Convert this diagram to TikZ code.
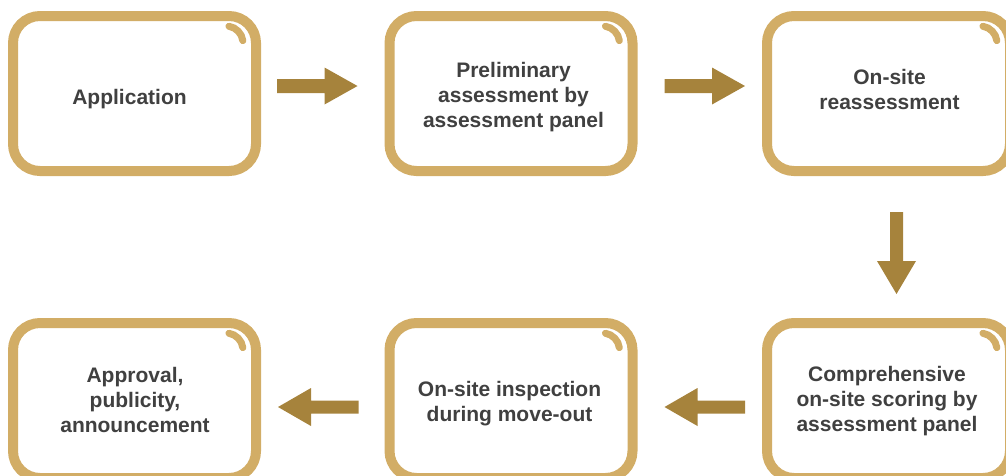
\documentclass[tikz,border=0pt]{standalone}
\usepackage{fontspec}
\setmainfont{Liberation Sans}
\usetikzlibrary{calc}
\definecolor{boxgold}{HTML}{D2AD66}
\definecolor{arrowgold}{HTML}{A6833C}
\definecolor{txtgray}{HTML}{404040}
\newcommand\flowarrow[4]{%
  \coordinate (ab) at ($(#2)!33pt!(#1)$);
  \fill[arrowgold] ($(#1)!#3!90:(#2)$) -- ($(ab)!#3!90:(#2)$) -- ($(ab)!#4!90:(#2)$) -- (#2)
    -- ($(ab)!#4!-90:(#2)$) -- ($(ab)!#3!-90:(#2)$) -- ($(#1)!#3!-90:(#2)$) -- cycle;}
\begin{document}
\begin{tikzpicture}[x=1pt,y=-1pt,
  stepbox/.style={draw=boxgold, line width=10pt, rounded corners=27pt, fill=white,
    minimum width=243pt, minimum height=155pt, inner sep=0pt},
  gleam/.style={draw=boxgold, line width=7pt, line cap=round},
  lbl/.style={text=txtgray, font=\fontsize{21}{25}\selectfont\bfseries, align=center, inner sep=0pt}]
\useasboundingbox (0,0) rectangle (1006,475);
\clip (0,0) rectangle (1006,475);
% boxes
\node[stepbox] (b1) at (134.5,93.5) {};
\node[stepbox] (b2) at (511,93.5) {};
\node[stepbox] (b3) at (888.5,93.5) {};
\node[stepbox] (b4) at (888.5,400.5) {};
\node[stepbox] (b5) at (511,400.5) {};
\node[stepbox] (b6) at (134.5,400.5) {};
% gleams
\foreach \b in {b1,b2,b3,b4,b5,b6}
  \draw[gleam] ($(\b.north east)+(-35,32)$) ++(80:17pt) arc[start angle=80,end angle=8,radius=17pt];
% labels
\node[lbl] (t1) at (129.5,98.9) {Application};
\node[lbl] (t2) at (513.5,97.3) {Preliminary\\assessment by\\assessment panel};
\node[lbl] (t3) at (889.5,89.9) {On-site\\reassessment};
\node[lbl] (t4) at (887,401.4) {Comprehensive\\on-site scoring by\\assessment panel};
\node[lbl] (t5) at (509.5,403.9) {On-site inspection\\during move-out};
\node[lbl] (t6) at (135,400.4) {Approval,\\publicity,\\announcement};
% arrows
\coordinate (a1s) at ($(b1.east)+(16,-7.5)$);
\coordinate (a1e) at ($(b2.west)+(-27,-7.5)$);
\coordinate (a2s) at ($(b2.east)+(27,-7.5)$);
\coordinate (a2e) at ($(b3.west)+(-17,-7.5)$);
\coordinate (a3s) at ($(b3.south)+(8,36)$);
\coordinate (a3e) at ($(b4.north)+(8,-24)$);
\coordinate (a4s) at ($(b4.west)+(-17,6.5)$);
\coordinate (a4e) at ($(b5.east)+(27,6.5)$);
\coordinate (a5s) at ($(b5.west)+(-26,6.5)$);
\coordinate (a5e) at ($(b6.east)+(17,6.5)$);
\flowarrow{a1s}{a1e}{7pt}{18.5pt}
\flowarrow{a2s}{a2e}{7pt}{18.5pt}
\flowarrow{a3s}{a3e}{6.5pt}{19.5pt}
\flowarrow{a4s}{a4e}{6.5pt}{19pt}
\flowarrow{a5s}{a5e}{6.5pt}{19pt}
\end{tikzpicture}
\end{document}
